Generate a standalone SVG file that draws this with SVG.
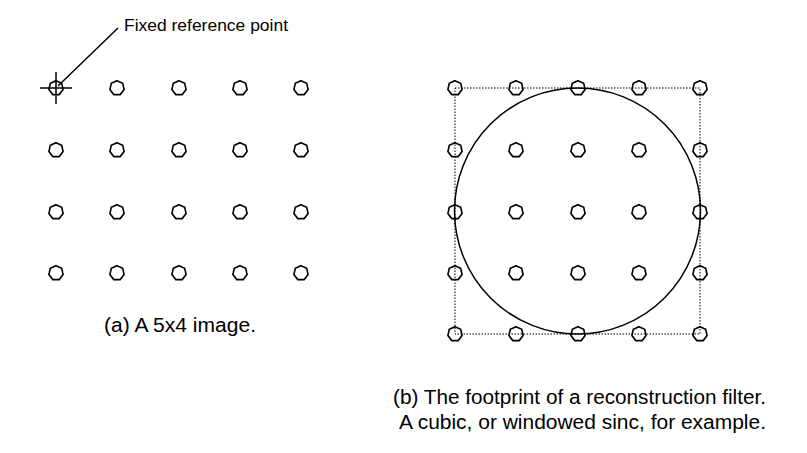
<svg xmlns="http://www.w3.org/2000/svg" xmlns:xlink="http://www.w3.org/1999/xlink" width="807" height="453" viewBox="0 0 807 453">
<style>
.pt{fill:none;stroke:#000;stroke-width:1.6}
.ln{fill:none;stroke:#000;stroke-width:1.5}
.dot{fill:none;stroke:#000;stroke-width:1;stroke-dasharray:1.5 1.5}
text{font-family:"Liberation Sans",Arial,sans-serif;fill:#000}
</style>
<defs>
<polygon id="p" class="pt" points="0,-7.3 5.7,-4.6 7.1,1.6 3.2,6.6 -3.2,6.6 -7.1,1.6 -5.7,-4.6"/>
</defs>
<rect width="807" height="453" fill="#fff"/>
<g id="connectors">
<line class="ln" x1="40" y1="88" x2="72" y2="88"/>
<line class="ln" x1="56" y1="72" x2="56" y2="104"/>
<line class="ln" x1="58" y1="86" x2="118" y2="28"/>
<rect class="dot" x="455" y="88" width="245" height="246"/>
<circle class="ln" cx="577.5" cy="211" r="123"/>
</g>
<g id="gridA">
<use xlink:href="#p" x="56" y="88"/><use xlink:href="#p" x="117" y="88"/><use xlink:href="#p" x="179" y="88"/><use xlink:href="#p" x="240" y="88"/><use xlink:href="#p" x="301" y="88"/>
<use xlink:href="#p" x="56" y="150"/><use xlink:href="#p" x="117" y="150"/><use xlink:href="#p" x="179" y="150"/><use xlink:href="#p" x="240" y="150"/><use xlink:href="#p" x="301" y="150"/>
<use xlink:href="#p" x="56" y="212"/><use xlink:href="#p" x="117" y="212"/><use xlink:href="#p" x="179" y="212"/><use xlink:href="#p" x="240" y="212"/><use xlink:href="#p" x="301" y="212"/>
<use xlink:href="#p" x="56" y="273"/><use xlink:href="#p" x="117" y="273"/><use xlink:href="#p" x="179" y="273"/><use xlink:href="#p" x="240" y="273"/><use xlink:href="#p" x="301" y="273"/>
</g>
<g id="gridB">
<use xlink:href="#p" x="455" y="88"/><use xlink:href="#p" x="516" y="88"/><use xlink:href="#p" x="578" y="88"/><use xlink:href="#p" x="639" y="88"/><use xlink:href="#p" x="700" y="88"/>
<use xlink:href="#p" x="455" y="150"/><use xlink:href="#p" x="516" y="150"/><use xlink:href="#p" x="578" y="150"/><use xlink:href="#p" x="639" y="150"/><use xlink:href="#p" x="700" y="150"/>
<use xlink:href="#p" x="455" y="212"/><use xlink:href="#p" x="516" y="212"/><use xlink:href="#p" x="578" y="212"/><use xlink:href="#p" x="639" y="212"/><use xlink:href="#p" x="700" y="212"/>
<use xlink:href="#p" x="455" y="273"/><use xlink:href="#p" x="516" y="273"/><use xlink:href="#p" x="578" y="273"/><use xlink:href="#p" x="639" y="273"/><use xlink:href="#p" x="700" y="273"/>
<use xlink:href="#p" x="455" y="334"/><use xlink:href="#p" x="516" y="334"/><use xlink:href="#p" x="578" y="334"/><use xlink:href="#p" x="639" y="334"/><use xlink:href="#p" x="700" y="334"/>
</g>
<g id="labels">
<text x="124" y="31" font-size="16.5" textLength="164" lengthAdjust="spacingAndGlyphs">Fixed reference point</text>
<text x="104" y="332" font-size="19.5" textLength="152" lengthAdjust="spacingAndGlyphs">(a) A 5x4 image.</text>
<text x="393" y="404" font-size="19.5" textLength="373" lengthAdjust="spacingAndGlyphs">(b) The footprint of a reconstruction filter.</text>
<text x="399" y="429" font-size="19.5" textLength="367" lengthAdjust="spacingAndGlyphs">A cubic, or windowed sinc, for example.</text>
</g>
</svg>
